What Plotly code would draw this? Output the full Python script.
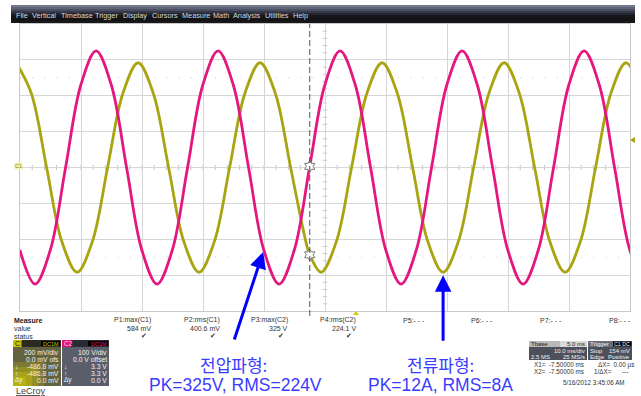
import plotly.graph_objects as go

# ---- waveform samples (time in ms) ----
# C1: current probe, mV
c1_t = [-55.64, -53.14, -50.64, -48.14, -45.64, -43.14, -40.64, -38.14, -35.64, -33.14,
        -30.64, -28.14, -25.64, -23.14, -20.64, -18.14, -15.64, -13.14, -10.64, -8.14,
        -7.50, -5.64, -3.14, -0.64, 1.86, 4.36, 6.86, 9.36, 11.86, 14.36,
        16.86, 19.36, 21.86, 24.36, 26.86, 29.36, 31.86, 34.36, 36.86, 39.36,
        41.86, 44.36, 46.86]
c1_mv = [584, 413, 0, -413, -584, -413, 0, 413, 584, 413,
         0, -413, -584, -413, 0, 413, 584, 413, 0, -413,
         -486.8, -584, -413, 0, 413, 584, 413, 0, -413, -584,
         -413, 0, 413, 584, 413, 0, -413, -584, -413, 0,
         413, 584, 413]

# C2: voltage probe, V
c2_t = [-55.03, -52.53, -50.03, -47.53, -45.03, -42.53, -40.03, -37.53, -35.03, -32.53,
        -30.03, -27.53, -25.03, -22.53, -20.03, -17.53, -15.03, -12.53, -10.03, -7.50,
        -5.03, -2.53, -0.03, 2.47, 4.97, 7.47, 9.97, 12.47, 14.97, 17.47,
        19.97, 22.47, 24.97, 27.47, 29.97, 32.47, 34.97, 37.47, 39.97, 42.47,
        44.97, 47.47]
c2_v = [-230, -325, -230, 0, 230, 325, 230, 0, -230, -325,
        -230, 0, 230, 325, 230, 0, -230, -325, -230, 3.3,
        230, 325, 230, 0, -230, -325, -230, 0, 230, 325,
        230, 0, -230, -325, -230, 0, 230, 325, 230, 0,
        -230, -325]

# cursor readout
cursor_t = -7.5
cursor_c1 = -486.8
cursor_c2 = 3.3

# measurement table
meas_names = ["P1:max(C1)", "P2:rms(C1)", "P3:max(C2)", "P4:rms(C2)",
              "P5:- - -", "P6:- - -", "P7:- - -", "P8:- - -"]
meas_values = ["584 mV", "400.6 mV", "325 V", "224.1 V", "", "", "", ""]
meas_ok = [True, True, True, True, False, False, False, False]

menu_items = ["File", "Vertical", "Timebase", "Trigger", "Display", "Cursors",
              "Measure", "Math", "Analysis", "Utilities", "Help"]

C1_COL = "#a9a412"
C2_COL = "#e4177f"
ARROW = "#0000ff"
LABEL = "#3b3bff"

W, H = 641, 396
L, R, T, B = 20, 630, 24, 311


def X(px):
    return (px - L) / (R - L)


def Y(py):
    return (B - py) / (B - T)


shapes = []
ann = []


def rect(x0, y0, x1, y1, fill, line=None, opacity=1.0, kind="rect"):
    shapes.append(dict(type=kind, xref="paper", yref="paper",
                       x0=X(x0), x1=X(x1), y0=Y(y1), y1=Y(y0),
                       fillcolor=fill, opacity=opacity, layer="above",
                       line=dict(width=0 if line is None else 1,
                                 color=line or "rgba(0,0,0,0)")))


def txt(x, y, s, size=7, color="#222", anchor="left", family="Liberation Sans", **kw):
    ann.append(dict(x=X(x), y=Y(y), xref="paper", yref="paper", text=s,
                    showarrow=False, xanchor=anchor, yanchor="middle",
                    borderpad=0, font=dict(size=size, color=color, family=family), **kw))


fig = go.Figure()

fig.add_trace(go.Scatter(x=c2_t, y=c2_v, yaxis="y2", mode="lines",
                         line=dict(color=C2_COL, width=2.8, shape="spline", smoothing=1.0),
                         hoverinfo="skip", showlegend=False))
fig.add_trace(go.Scatter(x=c1_t, y=c1_mv, mode="lines",
                         line=dict(color=C1_COL, width=2.8, shape="spline", smoothing=1.0),
                         hoverinfo="skip", showlegend=False))

# cursor markers on both traces
for yv, ax in ((cursor_c2, "y2"), (cursor_c1, "y")):
    fig.add_trace(go.Scatter(x=[cursor_t], y=[yv], yaxis=ax, mode="markers",
                             marker=dict(symbol="hexagram", size=9, color="white",
                                         line=dict(color="#777", width=1)),
                             hoverinfo="skip", showlegend=False))

# ---- graticule details ----
for i in range(-25, 26):
    t = -5 + i * 2
    if -55 < t < 45:
        shapes.append(dict(type="line", xref="x", yref="y", x0=t, x1=t, y0=-14, y1=14,
                           line=dict(color="#c4c4c4", width=1), layer="below"))
for i in range(-20, 21):
    v = i * 40
    if -800 < v < 800:
        shapes.append(dict(type="line", xref="x", yref="y", x0=-5.35, x1=-4.65, y0=v, y1=v,
                           line=dict(color="#c4c4c4", width=1), layer="below"))
for v in (500, -500):
    shapes.append(dict(type="line", xref="x", yref="y", x0=-55, x1=45, y0=v, y1=v,
                       line=dict(color="#c8c8c8", width=1, dash="1px,11.2px"), layer="below"))

# cursor line
shapes.append(dict(type="line", xref="x", yref="paper", x0=cursor_t, x1=cursor_t,
                   y0=Y(316), y1=1, line=dict(color="#555", width=1, dash="6px,3px")))

# ---- menu bar ----
grad = ["#737a8c", "#5f6678", "#4a5062", "#34384a", "#22242e", "#17181d",
        "#141417", "#141416", "#18181a"]
for i, c in enumerate(grad):
    rect(11, 5 + i * 2, 635, 7 + i * 2, c)
mx = 15
widths = [16, 29, 34, 28, 29, 30, 31, 20, 32, 28, 16]
for name, w in zip(menu_items, widths):
    txt(mx, 15, name, size=7.3, color="#d8d8d8")
    mx += w

# ---- channel markers ----
txt(14, 166, "C1", size=5.5, color="#8a8600", bgcolor="#f3f1b0")
shapes.append(dict(type="path", xref="paper", yref="paper", layer="above",
                   path=f"M {X(635)} {Y(137)} L {X(630)} {Y(140)} L {X(635)} {Y(143)} Z",
                   fillcolor=C1_COL, line=dict(width=0)))
shapes.append(dict(type="path", xref="paper", yref="paper", layer="above",
                   path=f"M {X(353)} {Y(315)} L {X(356)} {Y(311)} L {X(359)} {Y(315)} Z",
                   fillcolor="#d6c600", line=dict(width=0)))

# ---- measurement row ----
txt(13, 320, "<b>Measure</b>", size=7, color="#222")
txt(13, 328, "value", size=7, color="#333")
txt(13, 336, "status", size=7, color="#333")
right_edges = [152, 221, 289, 357, 426, 494, 563, 632]
for nm, val, ok, xr in zip(meas_names, meas_values, meas_ok, right_edges):
    txt(xr, 320, nm, size=7, color="#333", anchor="right")
    if val:
        txt(xr, 328, val, size=7, color="#333", anchor="right")
    if ok:
        txt(xr - 4, 336, "✔", size=7, color="#333", anchor="right", family="DejaVu Sans")

# ---- channel panels ----
# C1
rect(13, 340, 61, 386, "#64633f")
glow = [(13, 362, 44, 386, 0.20), (13, 367, 38, 386, 0.25),
        (13, 372, 32, 386, 0.30), (13, 377, 26, 386, 0.35)]
for gx0, gy0, gx1, gy1, op in glow:
    rect(gx0, gy0, gx1, gy1, "#d8d200", opacity=op)
rect(13, 340, 61, 347, "#2b2b20")
rect(13, 340, 22, 347, "#c9c400")
rect(41, 341, 60, 346, "#000")
txt(14, 343.5, "C1", size=6.5, color="#222")
txt(59.5, 343.5, "DC1M", size=5.5, color="#c9c400", anchor="right")
c1_rows = ["200 mV/div", "0.0 mV ofs", "-486.8 mV", "-486.8 mV", "0.0 mV"]
for k, s in enumerate(c1_rows):
    txt(60, 352 + k * 7, s, size=6.8, color="#f2f2f2", anchor="right")
for k, s in enumerate(["↓", "↑", "Δy"]):
    txt(14, 366 + k * 7, s, size=6.5, color="#f2f2f2")
# C2
rect(62, 340, 109, 386, "#5a5e6a")
rect(62, 340, 109, 347, "#2a2c33")
rect(62, 340, 71, 347, "#e0137c")
rect(88, 341, 108, 346, "#000")
txt(63, 343.5, "C2", size=6.5, color="#ffd6ea")
txt(107.5, 343.5, "DC1M", size=5.5, color="#e0137c", anchor="right")
c2_rows = ["100 V/div", "0.0 V offset", "3.3 V", "3.3 V", "0.0 V"]
for k, s in enumerate(c2_rows):
    txt(108, 352 + k * 7, s, size=6.8, color="#f2f2f2", anchor="right")
for k, s in enumerate(["↓", "↑", "Δy"]):
    txt(63, 366 + k * 7, s, size=6.5, color="#f2f2f2")

txt(15, 391, "<u>LeCroy</u>", size=9, color="#444")

# ---- timebase / trigger panels ----
rect(529, 341, 587, 360, "#4d505a")
rect(529, 341, 587, 347, "#b9b9b9")
rect(560, 341, 587, 347, "#d8d8d8")
txt(530, 344, "Tbase", size=6, color="#222")
txt(586, 344, "5.0 ms", size=6, color="#222", anchor="right")
txt(586, 350.5, "10.0 ms/div", size=6, color="#f0f0f0", anchor="right")
txt(530, 357, "2.5 MS", size=6, color="#f0f0f0")
txt(586, 357, "25 MS/s", size=6, color="#f0f0f0", anchor="right")
rect(588, 341, 632, 360, "#4d505a")
rect(588, 341, 632, 347, "#6a6d77")
rect(613, 341.5, 631.5, 346.5, "#000")
txt(589, 344, "Trigger", size=6, color="#f0f0f0")
txt(631, 344, "C1 DC", size=5.3, color="#f0f0f0", anchor="right")
txt(589, 350.5, "Stop", size=6, color="#f0f0f0")
txt(631, 350.5, "154 mV", size=6, color="#f0f0f0", anchor="right")
txt(589, 357, "Edge", size=6, color="#f0f0f0")
txt(631, 357, "Positive", size=6, color="#f0f0f0", anchor="right")

txt(533, 364.5, "X1=  -7.50000 ms", size=6.3, color="#333")
txt(533, 371, "X2=  -7.50000 ms", size=6.3, color="#333")
txt(597, 364.5, "ΔX=  0.00 µs", size=6.3, color="#333")
txt(593, 371, "1/ΔX=", size=6.3, color="#333")
txt(629, 371, "---", size=6.3, color="#333", anchor="right")
txt(626, 382, "5/16/2012 3:45:06 AM", size=6.3, color="#333", anchor="right")

# ---- callouts ----
KF = "Noto Sans CJK KR"
txt(233, 364, "전압파형:", size=17, color=LABEL, anchor="center", family=KF)
txt(235, 385, "PK=325V, RMS=224V", size=17.5, color=LABEL, anchor="center", family="Liberation Sans")
txt(440, 364, "전류파형:", size=17, color=LABEL, anchor="center", family=KF)
txt(440, 385, "PK=12A, RMS=8A", size=17.5, color=LABEL, anchor="center", family="Liberation Sans")

ann.append(dict(x=-15.03, y=-230, xref="x", yref="y2", ax=-30, ay=91, axref="pixel", ayref="pixel",
                showarrow=True, arrowhead=2, arrowsize=1.1, arrowwidth=3, arrowcolor=ARROW,
                standoff=2, text=""))
ann.append(dict(x=14.36, y=-584, xref="x", yref="y", ax=0, ay=70, axref="pixel", ayref="pixel",
                showarrow=True, arrowhead=2, arrowsize=1.1, arrowwidth=3, arrowcolor=ARROW,
                standoff=3, text=""))

fig.update_layout(
    width=W, height=H,
    margin=dict(l=L, r=W - R, t=T, b=H - B),
    paper_bgcolor="white", plot_bgcolor="white",
    xaxis=dict(range=[-55, 45], tick0=-55, dtick=10, showgrid=True, gridcolor="#d6d6d6",
               gridwidth=1, showticklabels=False, ticks="", zeroline=False,
               showline=True, linecolor="#c9c9c9", mirror=True, fixedrange=True),
    yaxis=dict(range=[-800, 800], tick0=-800, dtick=200, showgrid=True, gridcolor="#d6d6d6",
               gridwidth=1, showticklabels=False, ticks="", zeroline=False,
               showline=True, linecolor="#c9c9c9", mirror=True, fixedrange=True),
    yaxis2=dict(range=[-400, 400], overlaying="y", visible=False, fixedrange=True),
    shapes=shapes, annotations=ann, showlegend=False,
)

fig.write_html("out.html")
